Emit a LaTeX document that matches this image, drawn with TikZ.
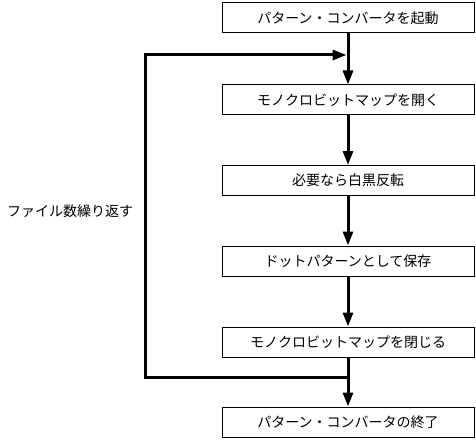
\documentclass[tikz,border=0pt]{standalone}
\usepackage{fontspec}
\setmainfont{Noto Sans CJK JP}
\usetikzlibrary{arrows.meta}
\begin{document}
\begin{tikzpicture}[x=1pt,y=-1pt,
  txt/.style={font=\fontsize{14}{16}\selectfont},
  stepbox/.style={txt,draw=black,line width=1pt,minimum width=252pt,minimum height=30pt,inner sep=0pt},
  flow/.style={line width=3pt,-{Triangle[length=14pt,width=10pt]}},
  plain/.style={line width=3pt}]
\useasboundingbox (0,0) rectangle (476,441);
\node[stepbox] (b1) at (348,18) {パターン・コンバータを起動};
\node[stepbox] (b2) at (348,100) {モノクロビットマップを開く};
\node[stepbox] (b3) at (348,180.5) {必要なら白黒反転};
\node[stepbox] (b4) at (348,261) {ドットパターンとして保存};
\node[stepbox] (b5) at (348,342) {モノクロビットマップを閉じる};
\node[stepbox] (b6) at (348,422) {パターン・コンバータの終了};
\node[txt] (lbl) at (70,211) {ファイル数繰り返す};
\coordinate (jtop) at (348,55);
\coordinate (jbot) at (348,377);
\coordinate (lt) at (145,55);
\coordinate (lb) at (145,377);
\draw[flow] (b1) -- (b2);
\draw[flow] (b2) -- (b3);
\draw[flow] (b3) -- (b4);
\draw[flow] (b4) -- (b5);
\draw[flow] (b5) -- (b6);
\draw[plain,line join=miter] (jbot) -- (lb) -- (lt) -- ([xshift=-6pt]jtop);
\draw[flow] (lt) -- ([xshift=-1.5pt]jtop);
\end{tikzpicture}
\end{document}
